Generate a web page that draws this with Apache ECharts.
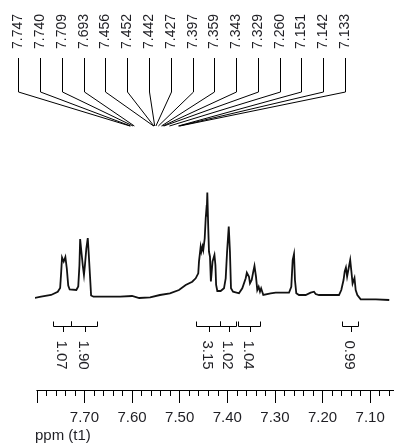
<!DOCTYPE html>
<html>
<head>
<meta charset="utf-8">
<script src="https://cdn.jsdelivr.net/npm/echarts@6/dist/echarts.min.js"></script>
<style>
  html, body { margin: 0; padding: 0; background: #fff; }
  #chart { width: 394px; height: 444px; }
</style>
</head>
<body>
<div id="chart"></div>
<script>
// 1H NMR, aromatic region (ppm, t1)

// Picked peak shifts (ppm)
const peakShifts = [7.747, 7.740, 7.709, 7.693, 7.456, 7.452, 7.442, 7.427,
                    7.397, 7.359, 7.343, 7.329, 7.260, 7.151, 7.142, 7.133];

// Spectrum trace: [ppm, intensity]
const spectrum = [
  [7.812, 0], [7.791, 1.8], [7.770, 3.5], [7.756, 6.8], [7.751, 10.5],
  [7.749, 25], [7.747, 41], [7.7435, 37], [7.740, 41.5], [7.737, 30],
  [7.734, 13], [7.731, 9], [7.727, 8.5], [7.717, 8.5], [7.713, 12],
  [7.7105, 33], [7.709, 59.5], [7.706, 45], [7.703, 31], [7.701, 23.5],
  [7.699, 33], [7.696, 50], [7.693, 60.5], [7.691, 45], [7.688, 20],
  [7.686, 3], [7.681, 1.8], [7.657, 1.8], [7.625, 1.8], [7.600, 2.5],
  [7.596, 1.2], [7.585, 0.5], [7.562, 1.2], [7.5415, 3.5], [7.5205, 5.2],
  [7.5015, 8.5], [7.4874, 13.5], [7.4736, 16.8], [7.4664, 20.2], [7.461, 25.2],
  [7.4595, 36.8], [7.456, 51.5], [7.4545, 47], [7.452, 52], [7.4505, 48.5],
  [7.4475, 60], [7.4454, 80], [7.4445, 85.5], [7.4435, 82], [7.442, 106],
  [7.440, 70], [7.4385, 46.8], [7.4364, 41.8], [7.4345, 17], [7.431, 37],
  [7.427, 43.5], [7.425, 33.5], [7.4235, 13.5], [7.421, 7.5], [7.414, 7.5],
  [7.407, 10.2], [7.4034, 20.2], [7.4005, 46.8], [7.397, 72], [7.3945, 46.8],
  [7.3923, 10.2], [7.388, 6.8], [7.3755, 5.2], [7.3686, 10.2], [7.365, 11.8],
  [7.3614, 20.2], [7.359, 25.8], [7.3545, 21.8], [7.3524, 15.2], [7.3488, 18.5],
  [7.3455, 26.8], [7.343, 32.5], [7.3398, 21.8], [7.3371, 8.5], [7.3342, 11.8],
  [7.3314, 6.8], [7.329, 10.2], [7.3245, 3.5], [7.309, 5.2], [7.2984, 5.8],
  [7.2705, 5.8], [7.2657, 11.8], [7.2628, 38.5], [7.260, 44.5], [7.258, 18.5],
  [7.2552, 5.2], [7.2495, 3.5], [7.2355, 3.5], [7.225, 5.8], [7.218, 6.8],
  [7.2145, 4.5], [7.2111, 5.2], [7.2075, 3.5], [7.1655, 3.5], [7.1607, 8.5],
  [7.156, 18.5], [7.1535, 27], [7.151, 31], [7.1485, 22], [7.1455, 24],
  [7.142, 38.5], [7.1395, 27], [7.137, 15], [7.133, 20.5], [7.1305, 8.5],
  [7.127, 3.5], [7.120, -0.8], [7.088, -0.8], [7.060, -1.5]
];

// Integral regions [from, to] (ppm) and their values
const integralRanges = [
  [7.766, 7.729], [7.729, 7.674], [7.466, 7.416],
  [7.416, 7.381], [7.377, 7.332], [7.160, 7.125]
];
const integralValues = ['1.07', '1.90', '3.15', '1.02', '1.04', '0.99'];

// Axis tick labels
const tickLabels = ['7.70', '7.60', '7.50', '7.40', '7.30', '7.20', '7.10'];

const FONT = '"Liberation Sans", Arial, sans-serif';
const INK = '#1f1f24';

const chart = echarts.init(document.getElementById('chart'), null, { renderer: 'canvas' });

// Peak label layout: evenly spaced labels with bent leader lines
const labelLeft = 18.3, labelRight = 345;
const step = (labelRight - labelLeft) / (peakShifts.length - 1);
const graphics = [];
peakShifts.forEach((ppm, i) => {
  const x = Math.round(labelLeft + i * step) + 0.5;
  const endX = 130 + (peakShifts[0] - ppm) * 81;
  graphics.push({
    type: 'text', x: x, y: 31.5, rotation: Math.PI / 2,
    style: { text: ppm.toFixed(3), fill: INK, font: '14px ' + FONT, align: 'center', verticalAlign: 'middle' },
    silent: true
  });
  graphics.push({
    type: 'polyline',
    shape: { points: [[x, 58], [x, 92], [endX, 126]] },
    style: { stroke: '#000', lineWidth: 1, fill: null },
    silent: true
  });
});
graphics.push({
  type: 'text', left: 35, top: 428,
  style: { text: 'ppm (t1)', fill: INK, font: '15px ' + FONT },
  silent: true
});

const option = {
  animation: false,
  backgroundColor: '#fff',
  grid: { left: 36.8, top: 180, width: 381.04, height: 210, containLabel: false, outerBoundsMode: 'none' },
  xAxis: {
    type: 'value',
    inverse: true,
    min: 7.0,
    max: 7.8,
    interval: 0.1,
    axisLine: { show: true, onZero: false, lineStyle: { color: '#000', width: 1 } },
    axisTick: { show: true, inside: false, length: 13, lineStyle: { color: '#000', width: 1 } },
    minorTick: { show: true, splitNumber: 5, length: 6, lineStyle: { color: '#000', width: 1 } },
    splitLine: { show: false },
    minorSplitLine: { show: false },
    axisLabel: {
      margin: 20,
      color: INK,
      fontSize: 15,
      fontFamily: FONT,
      formatter: v => {
        const s = (+v).toFixed(2);
        return tickLabels.indexOf(s) >= 0 ? s : '';
      }
    }
  },
  yAxis: {
    type: 'value',
    min: -91.5,
    max: 118.5,
    show: false,
    splitLine: { show: false }
  },
  series: [
    {
      type: 'line',
      data: spectrum,
      showSymbol: false,
      symbol: 'none',
      clip: false,
      lineStyle: { color: '#111', width: 1.8, join: 'miter' },
      silent: true
    },
    {
      type: 'custom',
      data: integralRanges.map(r => [r[0], r[1], 0]),
      encode: { x: [0, 1], y: 2 },
      clip: false,
      silent: true,
      renderItem: (params, api) => {
        const x1 = Math.round(api.coord([api.value(0), 0])[0]) + 0.5;
        const x2 = Math.round(api.coord([api.value(1), 0])[0]) + 0.5;
        const xm = Math.round((x1 + x2) / 2) + 0.5;
        return {
          type: 'group',
          children: [
            {
              type: 'polyline',
              shape: { points: [[x1, 321.5], [x1, 326.5], [x2, 326.5], [x2, 321.5]] },
              style: { stroke: '#000', lineWidth: 1, fill: null }
            },
            {
              type: 'line',
              shape: { x1: xm, y1: 326.5, x2: xm, y2: 332 },
              style: { stroke: '#000', lineWidth: 1 }
            },
            {
              type: 'text', x: xm - 2, y: 355, rotation: -Math.PI / 2,
              style: {
                text: integralValues[params.dataIndex], fill: INK,
                font: '15px ' + FONT, align: 'center', verticalAlign: 'middle'
              }
            }
          ]
        };
      }
    }
  ],
  graphic: graphics
};

chart.setOption(option);
</script>
</body>
</html>
